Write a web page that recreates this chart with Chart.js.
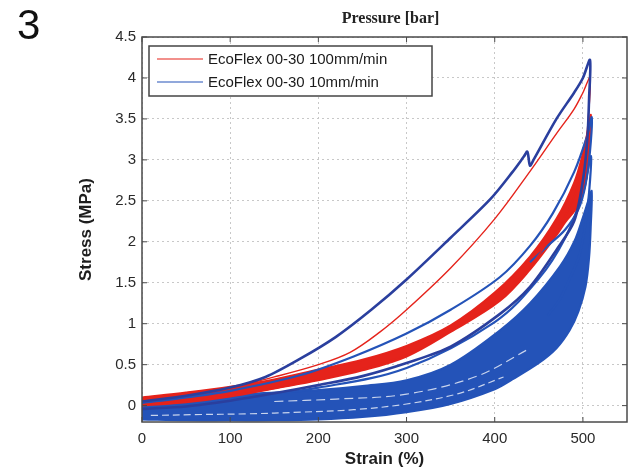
<!DOCTYPE html>
<html><head><meta charset="utf-8">
<script src="https://cdn.jsdelivr.net/npm/chart.js@4/dist/chart.umd.min.js"></script>
<style>
html,body{margin:0;padding:0;background:#fff;}
#wrap{position:relative;width:633px;height:471px;overflow:hidden;}
#panel{position:absolute;left:17px;top:0px;font:42px "Liberation Sans",Arial,sans-serif;color:#111;line-height:1.2;}
canvas{position:absolute;left:0;top:0;}
</style></head><body>
<div id="wrap"><canvas id="c" width="633" height="471"></canvas><div id="panel">3</div></div>
<script>
// ---- text ----
const chartTitle = 'Pressure [bar]';
const xTitle = 'Strain (%)';
const yTitle = 'Stress (MPa)';
const legendLabels = ['EcoFlex 00-30 100mm/min', 'EcoFlex 00-30 10mm/min'];
// ---- ticks ----
const strainTicks = [0, 100, 200, 300, 400, 500];
const stressTicks = [0, 0.5, 1, 1.5, 2, 2.5, 3, 3.5, 4, 4.5];
// ---- series (strain %, stress MPa) ----
// red band of repeated 100mm/min cycles (loading edge then unloading edge)
const redBandX = [0,50,100,150,200,250,300,350,400,440,470,490,500,506,509,508,505,500,492,480,470,440,406,350,300,250,200,150,100,50,0];
const redBandY = [0.10,0.16,0.23,0.32,0.44,0.56,0.73,0.98,1.38,1.82,2.28,2.72,3.08,3.38,3.55,3.25,2.85,2.58,2.40,2.24,2.08,1.66,1.28,0.90,0.60,0.43,0.31,0.21,0.11,0.04,0.00];
// thin red strands at the top of the red band
const redStrandX = [400,440,470,490,500,507];
const redStrandY = [1.30,1.70,2.12,2.55,2.95,3.30];
// first 100mm/min cycle
const redFirstX = [0,50,100,150,200,236,270,300,350,400,440,470,490,500,508,506,502,495,480,440,406,350,300,200,100,0];
const redFirstY = [0.08,0.14,0.22,0.35,0.50,0.65,0.90,1.17,1.68,2.28,2.86,3.32,3.62,3.82,4.00,3.50,3.05,2.70,2.32,1.70,1.30,0.92,0.62,0.32,0.12,0.01];
// blue band of repeated 10mm/min cycles
const blueBandX = [0,50,100,150,200,250,300,350,406,440,474,490,500,506,510,509,507,503,495,485,470,450,420,400,350,300,250,200,150,100,50,0];
const blueBandY = [0.02,0.08,0.13,0.16,0.19,0.24,0.31,0.50,0.92,1.25,1.70,2.00,2.30,2.50,2.62,2.20,1.80,1.45,1.15,0.92,0.70,0.52,0.32,0.20,0.02,-0.08,-0.14,-0.17,-0.18,-0.18,-0.18,-0.17];
// first 10mm/min cycle (with the notch)
const blueFirstX = [0,50,100,140,179,220,260,300,350,395,420,433,437,440,444,470,490,500,508,507,505,500,490,470,440,406,350,300,250,200,150,100,50,0];
const blueFirstY = [0.05,0.12,0.22,0.35,0.57,0.84,1.17,1.54,2.05,2.52,2.85,3.04,3.10,2.93,3.00,3.50,3.82,4.00,4.22,3.75,3.25,2.75,2.25,1.90,1.45,1.12,0.72,0.52,0.36,0.25,0.15,0.06,-0.01,-0.04];
// second 10mm/min cycle
const blueSecondX = [0,50,100,179,240,300,350,406,440,466,490,505,510,508,503,495,480,460,440];
const blueSecondY = [0.03,0.10,0.18,0.37,0.60,0.88,1.17,1.57,1.95,2.35,2.85,3.30,3.52,3.10,2.70,2.40,2.15,1.95,1.75];
// third 10mm/min cycle
const blueThirdX = [0,100,200,300,400,450,480,500,509,507,502,495,485,474,460];
const blueThirdY = [-0.05,0.08,0.22,0.46,1.02,1.55,2.05,2.60,3.05,2.60,2.15,1.80,1.55,1.30,1.10];
// light streaks inside the blue band
const streakAX = [10,60,120,180,240,300,360,410];
const streakAY = [-0.12,-0.11,-0.10,-0.08,-0.05,0.02,0.15,0.35];
const streakBX = [150,220,300,380,440];
const streakBY = [0.05,0.08,0.14,0.36,0.70];

const RED = '#e5231b', BLUE = '#2453b8', NAVY = '#2a3f9e';
const pts = (xs, ys) => xs.map((x, i) => ({x, y: ys[i]}));
const lineDs = (xs, ys, color, w, extra) => Object.assign({
  data: pts(xs, ys), borderColor: color, backgroundColor: color, borderWidth: w,
  pointRadius: 0, showLine: true, tension: 0.35, fill: false
}, extra || {});

const datasets = [
  lineDs(blueFirstX, blueFirstY, NAVY, 2.6, {tension: 0.3}),
  lineDs(redFirstX, redFirstY, RED, 1.4),
  lineDs(blueSecondX, blueSecondY, BLUE, 2.2),
  lineDs(redStrandX, redStrandY, RED, 1.2),
  lineDs(redBandX, redBandY, RED, 2, {fill: 'shape'}),
  lineDs(blueThirdX, blueThirdY, BLUE, 2.2),
  lineDs(streakAX, streakAY, 'rgba(255,255,255,0.75)', 1.2, {borderDash: [7, 4]}),
  lineDs(streakBX, streakBY, 'rgba(255,255,255,0.75)', 1.2, {borderDash: [9, 5]}),
  lineDs(blueBandX, blueBandY, BLUE, 2, {fill: 'shape'})
];

const framePlugin = {
  id: 'frame',
  afterDatasetsDraw(chart) {
    const {ctx, chartArea: a, scales} = chart;
    ctx.save();
    ctx.strokeStyle = '#4a4a4a'; ctx.lineWidth = 1.5;
    ctx.strokeRect(a.left, a.top, a.right - a.left, a.bottom - a.top);
    ctx.lineWidth = 1;
    strainTicks.forEach(v => {
      const x = scales.x.getPixelForValue(v);
      ctx.beginPath(); ctx.moveTo(x, a.bottom); ctx.lineTo(x, a.bottom - 5);
      ctx.moveTo(x, a.top); ctx.lineTo(x, a.top + 5); ctx.stroke();
    });
    stressTicks.forEach(v => {
      const y = scales.y.getPixelForValue(v);
      ctx.beginPath(); ctx.moveTo(a.left, y); ctx.lineTo(a.left + 5, y);
      ctx.moveTo(a.right, y); ctx.lineTo(a.right - 5, y); ctx.stroke();
    });
    // title
    ctx.fillStyle = '#222';
    ctx.font = 'bold 16px "Liberation Serif", "Times New Roman", serif';
    ctx.textAlign = 'center'; ctx.textBaseline = 'middle';
    ctx.fillText(chartTitle, (a.left + a.right) / 2 + 6, 19);
    // legend box
    const x0 = a.left + 7, y0 = a.top + 9, w = 283, h = 50;
    ctx.fillStyle = '#fff'; ctx.fillRect(x0, y0, w, h);
    ctx.strokeStyle = '#444'; ctx.lineWidth = 1.5; ctx.strokeRect(x0, y0, w, h);
    const cols = [RED, BLUE];
    ctx.font = '15px "Liberation Sans", Arial, sans-serif';
    ctx.textAlign = 'left';
    legendLabels.forEach((t, i) => {
      const y = y0 + 13 + i * 23;
      ctx.strokeStyle = cols[i]; ctx.lineWidth = 1.2;
      ctx.beginPath(); ctx.moveTo(x0 + 8, y); ctx.lineTo(x0 + 54, y); ctx.stroke();
      ctx.fillStyle = '#1a1a1a';
      ctx.fillText(t, x0 + 59, y + 1);
    });
    ctx.restore();
  }
};

const tickFont = {family: '"Liberation Sans", Arial, sans-serif', size: 15};
new Chart(document.getElementById('c'), {
  type: 'scatter',
  data: {datasets},
  options: {
    responsive: false, animation: false, devicePixelRatio: 1,
    layout: {padding: {top: 37, right: 6, left: 0, bottom: 0}},
    plugins: {legend: {display: false}, tooltip: {enabled: false}, title: {display: false}},
    scales: {
      x: {
        type: 'linear', min: 0, max: 550,
        afterBuildTicks: s => { s.ticks = strainTicks.map(v => ({value: v})); },
        afterFit: s => { s.height = 49; },
        grid: {color: '#c8c8c8', drawTicks: false, lineWidth: 1},
        border: {display: false, dash: [2, 3]},
        ticks: {color: '#2a2a2a', font: tickFont, padding: 8, autoSkip: false, maxRotation: 0, callback: v => String(v)},
        title: {display: true, text: xTitle, color: '#1e1e1e', font: {family: '"Liberation Sans", Arial, sans-serif', size: 17, weight: 'bold'}, padding: {top: 0, bottom: 1}}
      },
      y: {
        type: 'linear', min: -0.2, max: 4.5,
        afterBuildTicks: s => { s.ticks = stressTicks.map(v => ({value: v})); },
        afterFit: s => { s.width = 142; },
        grid: {color: '#c8c8c8', drawTicks: false, lineWidth: 1},
        border: {display: false, dash: [2, 3]},
        ticks: {color: '#2a2a2a', font: tickFont, padding: 6, autoSkip: false, callback: v => String(v)},
        title: {display: true, text: yTitle, color: '#1e1e1e', font: {family: '"Liberation Sans", Arial, sans-serif', size: 17, weight: 'bold'}, padding: {top: 76, bottom: 0}}
      }
    }
  },
  plugins: [framePlugin]
});
</script>
</body></html>
